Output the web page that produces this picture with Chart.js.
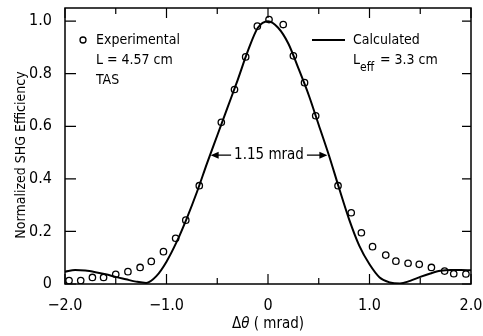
<!DOCTYPE html>
<html>
<head>
<meta charset="utf-8">
<script src="https://cdn.jsdelivr.net/npm/chart.js@4/dist/chart.umd.min.js"></script>
<style>
    body { margin: 0; background: #fff; }
    #wrap { width: 483px; height: 336px; position: relative; }
</style>
</head>
<body>
<div id="wrap"><canvas id="shgChart"></canvas></div>
<script>
// Experimental points (TAS, L = 4.57 cm)
const expAngle = [-1.96, -1.845, -1.73, -1.62, -1.50, -1.38, -1.26, -1.15, -1.03, -0.91, -0.81, -0.677,
    -0.46, -0.33, -0.22, -0.105, 0.01, 0.15, 0.25, 0.36, 0.47, 0.69, 0.82, 0.92, 1.03, 1.16, 1.26,
    1.38, 1.49, 1.61, 1.74, 1.83, 1.95];
const expEff = [0.013, 0.013, 0.025, 0.025, 0.037, 0.047, 0.063, 0.086, 0.123, 0.174, 0.243, 0.374,
    0.615, 0.74, 0.864, 0.981, 1.006, 0.987, 0.868, 0.766, 0.64, 0.374, 0.271, 0.195, 0.142, 0.110, 0.087,
    0.079, 0.075, 0.063, 0.049, 0.039, 0.038];

// Calculated curve (Leff = 3.3 cm)
const calcAngle = [-2.0, -1.9, -1.8, -1.7, -1.6, -1.5, -1.4, -1.3, -1.2, -1.1, -1.0, -0.9, -0.8, -0.7,
    -0.6, -0.5, -0.4, -0.3, -0.2, -0.1, 0.0, 0.1, 0.2, 0.3, 0.4, 0.5, 0.6, 0.7, 0.8, 0.9, 1.0, 1.1, 1.2,
    1.3, 1.4, 1.5, 1.6, 1.7, 1.8, 1.9, 2.0];
const calcEff = [0.047, 0.053, 0.051, 0.045, 0.037, 0.027, 0.018, 0.009, 0.004, 0.030, 0.085, 0.160,
    0.250, 0.350, 0.460, 0.565, 0.670, 0.775, 0.885, 0.975, 1.000, 0.975, 0.915, 0.820, 0.720, 0.605,
    0.490, 0.365, 0.245, 0.145, 0.075, 0.025, 0.006, 0.002, 0.012, 0.027, 0.040, 0.050, 0.053, 0.053,
    0.052];

const xTicks = [-2, -1, 0, 1, 2];
const xTickLabels = ["\u22122.0", "\u22121.0", "0", "1.0", "2.0"];
const xMinorTicks = [-1.5, -0.5, 0.5, 1.5];
const yTicks = [0, 0.2, 0.4, 0.6, 0.8, 1.0];
const yTickLabels = ["0", "0.2", "0.4", "0.6", "0.8", "1.0"];

// width marker at half maximum
const fwhmLeft = -0.565;
const fwhmRight = 0.585;
const fwhmLevel = 0.49;

const FONT = "'DejaVu Sans Condensed', 'DejaVu Sans', sans-serif";

const decorPlugin = {
    id: "decor",
    afterDraw(chart) {
        const ctx = chart.ctx;
        const area = chart.chartArea;
        const xs = chart.scales.x;
        const ys = chart.scales.y;
        ctx.save();
        ctx.strokeStyle = "#000";
        ctx.fillStyle = "#000";

        // frame
        ctx.lineWidth = 1.5;
        ctx.strokeRect(area.left, area.top, area.right - area.left, area.bottom - area.top);

        // inward ticks
        ctx.lineWidth = 1.2;
        ctx.beginPath();
        xTicks.forEach((v) => {
            const px = xs.getPixelForValue(v);
            ctx.moveTo(px, area.bottom); ctx.lineTo(px, area.bottom - 10);
            ctx.moveTo(px, area.top); ctx.lineTo(px, area.top + 10);
        });
        xMinorTicks.forEach((v) => {
            const px = xs.getPixelForValue(v);
            ctx.moveTo(px, area.bottom); ctx.lineTo(px, area.bottom - 6);
            ctx.moveTo(px, area.top); ctx.lineTo(px, area.top + 6);
        });
        yTicks.forEach((v) => {
            const py = ys.getPixelForValue(v);
            ctx.moveTo(area.left, py); ctx.lineTo(area.left + 11, py);
            ctx.moveTo(area.right, py); ctx.lineTo(area.right - 9, py);
        });
        ctx.stroke();

        // left legend
        ctx.lineWidth = 1.3;
        ctx.beginPath();
        ctx.arc(83, 40, 3, 0, Math.PI * 2);
        ctx.stroke();
        ctx.font = "14px " + FONT;
        ctx.textAlign = "left";
        ctx.textBaseline = "middle";
        ctx.fillText("Experimental", 96, 40);
        ctx.fillText("L = 4.57 cm", 96, 60);
        ctx.fillText("TAS", 96, 80);

        // right legend
        ctx.lineWidth = 2;
        ctx.beginPath();
        ctx.moveTo(312, 40); ctx.lineTo(345, 40);
        ctx.stroke();
        ctx.fillText("Calculated", 353, 40);
        ctx.fillText("L", 353, 60);
        ctx.font = "12px " + FONT;
        ctx.fillText("eff", 360, 68);
        ctx.font = "14px " + FONT;
        ctx.fillText("= 3.3 cm", 380, 60);

        // 1.15 mrad marker
        const ay = ys.getPixelForValue(fwhmLevel);
        const lx = xs.getPixelForValue(fwhmLeft);
        const rx = xs.getPixelForValue(fwhmRight);
        const mid = (lx + rx) / 2;
        ctx.font = "15px " + FONT;
        ctx.textAlign = "center";
        ctx.fillText("1.15 mrad", mid, ay);
        const half = ctx.measureText("1.15 mrad").width / 2;
        ctx.lineWidth = 1.3;
        ctx.beginPath();
        ctx.moveTo(mid - half - 3, ay); ctx.lineTo(lx + 6, ay);
        ctx.moveTo(mid + half + 3, ay); ctx.lineTo(rx - 6, ay);
        ctx.stroke();
        ctx.beginPath();
        ctx.moveTo(lx, ay); ctx.lineTo(lx + 8, ay - 3.5); ctx.lineTo(lx + 8, ay + 3.5); ctx.closePath();
        ctx.moveTo(rx, ay); ctx.lineTo(rx - 8, ay - 3.5); ctx.lineTo(rx - 8, ay + 3.5); ctx.closePath();
        ctx.fill();

        // axis titles
        ctx.font = "15px " + FONT;
        ctx.textAlign = "left";
        const p1 = "\u0394";
        const p3 = " ( mrad)";
        const w1 = ctx.measureText(p1).width;
        const w3 = ctx.measureText(p3).width;
        ctx.font = "italic 15px " + FONT;
        const w2 = ctx.measureText("\u03b8").width;
        let tx = (area.left + area.right) / 2 - (w1 + w2 + w3) / 2;
        const ty = 324;
        ctx.font = "15px " + FONT;
        ctx.fillText(p1, tx, ty);
        ctx.font = "italic 15px " + FONT;
        ctx.fillText("\u03b8", tx + w1, ty);
        ctx.font = "15px " + FONT;
        ctx.fillText(p3, tx + w1 + w2, ty);

        ctx.translate(21, 155);
        ctx.rotate(-Math.PI / 2);
        ctx.font = "14px " + FONT;
        ctx.textAlign = "center";
        ctx.fillText("Normalized SHG Efficiency", 0, 0);
        ctx.restore();
    },
};

new Chart(document.getElementById("shgChart"), {
    type: "scatter",
    data: {
        datasets: [
            {
                label: "Calculated",
                type: "line",
                data: calcAngle.map((a, i) => ({ x: a, y: calcEff[i] })),
                borderColor: "#000",
                borderWidth: 2,
                pointRadius: 0,
                fill: false,
                cubicInterpolationMode: "monotone",
            },
            {
                label: "Experimental",
                data: expAngle.map((a, i) => ({ x: a, y: expEff[i] })),
                pointRadius: 3.2,
                pointBorderWidth: 1.3,
                pointBackgroundColor: "#fff",
                pointBorderColor: "#000",
            },
        ],
    },
    options: {
        responsive: true,
        maintainAspectRatio: false,
        animation: false,
        layout: { padding: { top: 8, right: 12, left: 0, bottom: 0 } },
        plugins: { legend: { display: false }, tooltip: { enabled: false } },
        scales: {
            x: {
                type: "linear",
                min: -2,
                max: 2,
                grid: { display: false },
                border: { display: false },
                afterBuildTicks: (scale) => { scale.ticks = xTicks.map((v) => ({ value: v })); },
                afterFit: (scale) => {
                    scale.height = 52;
                    scale.paddingLeft = 0;
                    scale.paddingRight = 0;
                },
                ticks: {
                    color: "#000",
                    font: { family: FONT, size: 16 },
                    padding: 4,
                    maxRotation: 0,
                    callback: (v) => xTickLabels[xTicks.indexOf(v)],
                },
            },
            y: {
                min: 0,
                max: 1.05,
                grid: { display: false },
                border: { display: false },
                afterBuildTicks: (scale) => { scale.ticks = yTicks.map((v) => ({ value: v })); },
                afterFit: (scale) => {
                    scale.width = 65;
                    scale.paddingTop = 0;
                    scale.paddingBottom = 0;
                },
                ticks: {
                    color: "#000",
                    font: { family: FONT, size: 16 },
                    padding: 5,
                    callback: (v) => yTickLabels[yTicks.indexOf(v)],
                },
            },
        },
    },
    plugins: [decorPlugin],
});
</script>
</body>
</html>
